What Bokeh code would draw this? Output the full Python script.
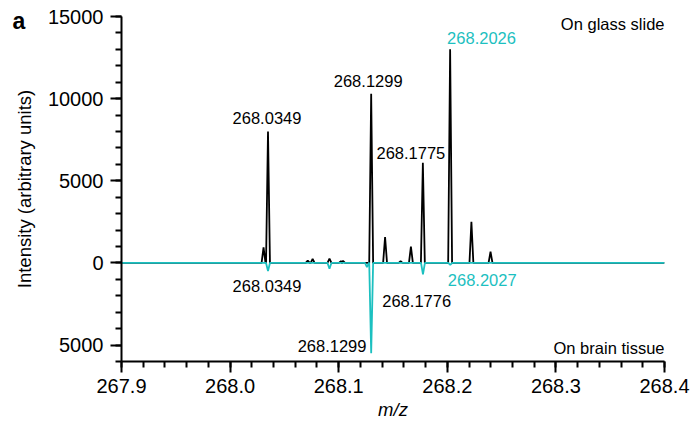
from bokeh.plotting import figure
from bokeh.models import Range1d, FixedTicker, CustomJSTickFormatter
from bokeh.core.properties import value
from bokeh.embed import file_html
from bokeh.resources import INLINE

# ---- data ----
glass_mz = [268.0308, 268.0349, 268.0715, 268.0760, 268.0915, 268.1020, 268.1040,
            268.1299, 268.1427, 268.1570, 268.1665, 268.1775, 268.2026, 268.2222, 268.2398]
glass_int = [950, 8000, 150, 250, 270, 100, 120,
             10300, 1580, 100, 1000, 6100, 13000, 2500, 680]

tissue_mz = [268.0349, 268.0915, 268.1260, 268.1299, 268.1776, 268.2027]
tissue_int = [500, 350, 250, 5500, 700, 120]  # plotted downward

glass_labels = ["268.0349", "268.1299", "268.1775", "268.2026"]
glass_label_mz = [268.0349, 268.1299, 268.1775, 268.2026]
glass_label_int = [8000, 10300, 6100, 13000]

tissue_labels = ["268.0349", "268.1299", "268.1776", "268.2027"]
tissue_label_mz = [268.0349, 268.1299, 268.1776, 268.2027]
tissue_label_int = [500, 5500, 700, 120]

x_ticks = [267.9, 268.0, 268.1, 268.2, 268.3, 268.4]
y_ticks = [-5000, 0, 5000, 10000, 15000]

# ---- styles ----
BLACK = "#000000"
CYAN = "#1CC0C0"
FONT = "Liberation Sans"
HW = 0.0018
DY = -5.5  # common vertical text correction


def profile(mz, inten, sign):
    xs, ys = [x_ticks[0]], [0]
    for c, h in sorted(zip(mz, inten)):
        xs += [c - HW, c, c + HW]
        ys += [0, sign * h, 0]
    xs.append(x_ticks[-1])
    ys.append(0)
    return xs, ys


p = figure(width=692, height=429, output_backend="svg", toolbar_location=None,
           x_range=Range1d(267.9, 268.4), y_range=Range1d(-6000, 15000),
           min_border_left=121, min_border_right=28, min_border_top=16, min_border_bottom=68)
p.outline_line_color = None
p.xgrid.visible = False
p.ygrid.visible = False
p.background_fill_color = "white"
p.border_fill_color = "white"

gx, gy = profile(glass_mz, glass_int, 1)
tx, ty = profile(tissue_mz, tissue_int, -1)
p.line(gx, gy, line_color=BLACK, line_width=1.8)
p.line(tx, ty, line_color=CYAN, line_width=1.8)

# peak labels
g_style = [("center", -1, -8, BLACK), ("center", -3, -7.5, BLACK),
           ("center", -12, -4.5, BLACK), ("left", -3, -6, CYAN)]
for t, x, y, (al, xo, yo, col) in zip(glass_labels, glass_label_mz, glass_label_int, g_style):
    p.text(x=[x], y=[y], text=[t], text_align=al, text_baseline="alphabetic",
           x_offset=xo, y_offset=yo + DY, text_color=col,
           text_font=value(FONT), text_font_size="16.5px")

t_style = [("center", -1, 20, BLACK), ("right", -4.7, -1.4, BLACK),
           ("center", -6.3, 31.8, BLACK), ("left", -2.4, 20.3, CYAN)]
for t, x, y, (al, xo, yo, col) in zip(tissue_labels, tissue_label_mz, tissue_label_int, t_style):
    p.text(x=[x], y=[-y], text=[t], text_align=al, text_baseline="alphabetic",
           x_offset=xo, y_offset=yo + DY, text_color=col,
           text_font=value(FONT), text_font_size="16.5px")

p.text(x=[x_ticks[-1]], y=[15000], text=["On glass slide"], text_align="right",
       text_baseline="alphabetic", y_offset=12.6 + DY, text_color=BLACK,
       text_font=value(FONT), text_font_size="16.5px")
p.text(x=[x_ticks[-1]], y=[-6000], text=["On brain tissue"], text_align="right",
       text_baseline="alphabetic", y_offset=-8 + DY, text_color=BLACK,
       text_font=value(FONT), text_font_size="16.5px")

# panel letter, outside the frame (overlay level is not clipped)
p.text(x=[x_ticks[0]], y=[y_ticks[-1]], text=["a"], text_align="left",
       text_baseline="alphabetic", x_offset=-109, y_offset=10 + DY, text_color=BLACK,
       text_font=value(FONT), text_font_style="bold", text_font_size="23px",
       level="overlay")

# axes
xa = p.xaxis[0]
xa.ticker = FixedTicker(ticks=x_ticks,
                        minor_ticks=[round(267.9 + 0.02 * i, 2) for i in range(26)])
xa.formatter = CustomJSTickFormatter(code="return tick.toFixed(1);")
xa.axis_label = "m/z"
ya = p.yaxis[0]
ya.ticker = FixedTicker(ticks=y_ticks, minor_ticks=list(range(-6000, 15001, 1000)))
ya.formatter = CustomJSTickFormatter(code="return Math.abs(tick).toString();")
ya.axis_label = "Intensity (arbitrary units)"

for ax in (xa, ya):
    ax.axis_line_width = 2
    ax.axis_line_color = BLACK
    ax.major_tick_line_width = 2
    ax.minor_tick_line_width = 2
    ax.major_tick_line_color = BLACK
    ax.minor_tick_line_color = BLACK
    ax.major_tick_in = 0
    ax.minor_tick_in = 0
    ax.major_tick_out = 11
    ax.minor_tick_out = 6
    ax.major_label_text_font = FONT
    ax.major_label_text_font_size = "20px"
    ax.major_label_text_color = BLACK
    ax.axis_label_text_font = FONT
    ax.axis_label_text_font_size = "18.5px"
    ax.axis_label_text_color = BLACK
    ax.major_label_standoff = 7

xa.axis_label_text_font_style = "italic"
xa.axis_label_standoff = 3
xa.major_label_standoff = 6
ya.axis_label_text_font_style = "normal"
ya.axis_label_standoff = 10

open("out.html", "w").write(file_html(p, INLINE))
